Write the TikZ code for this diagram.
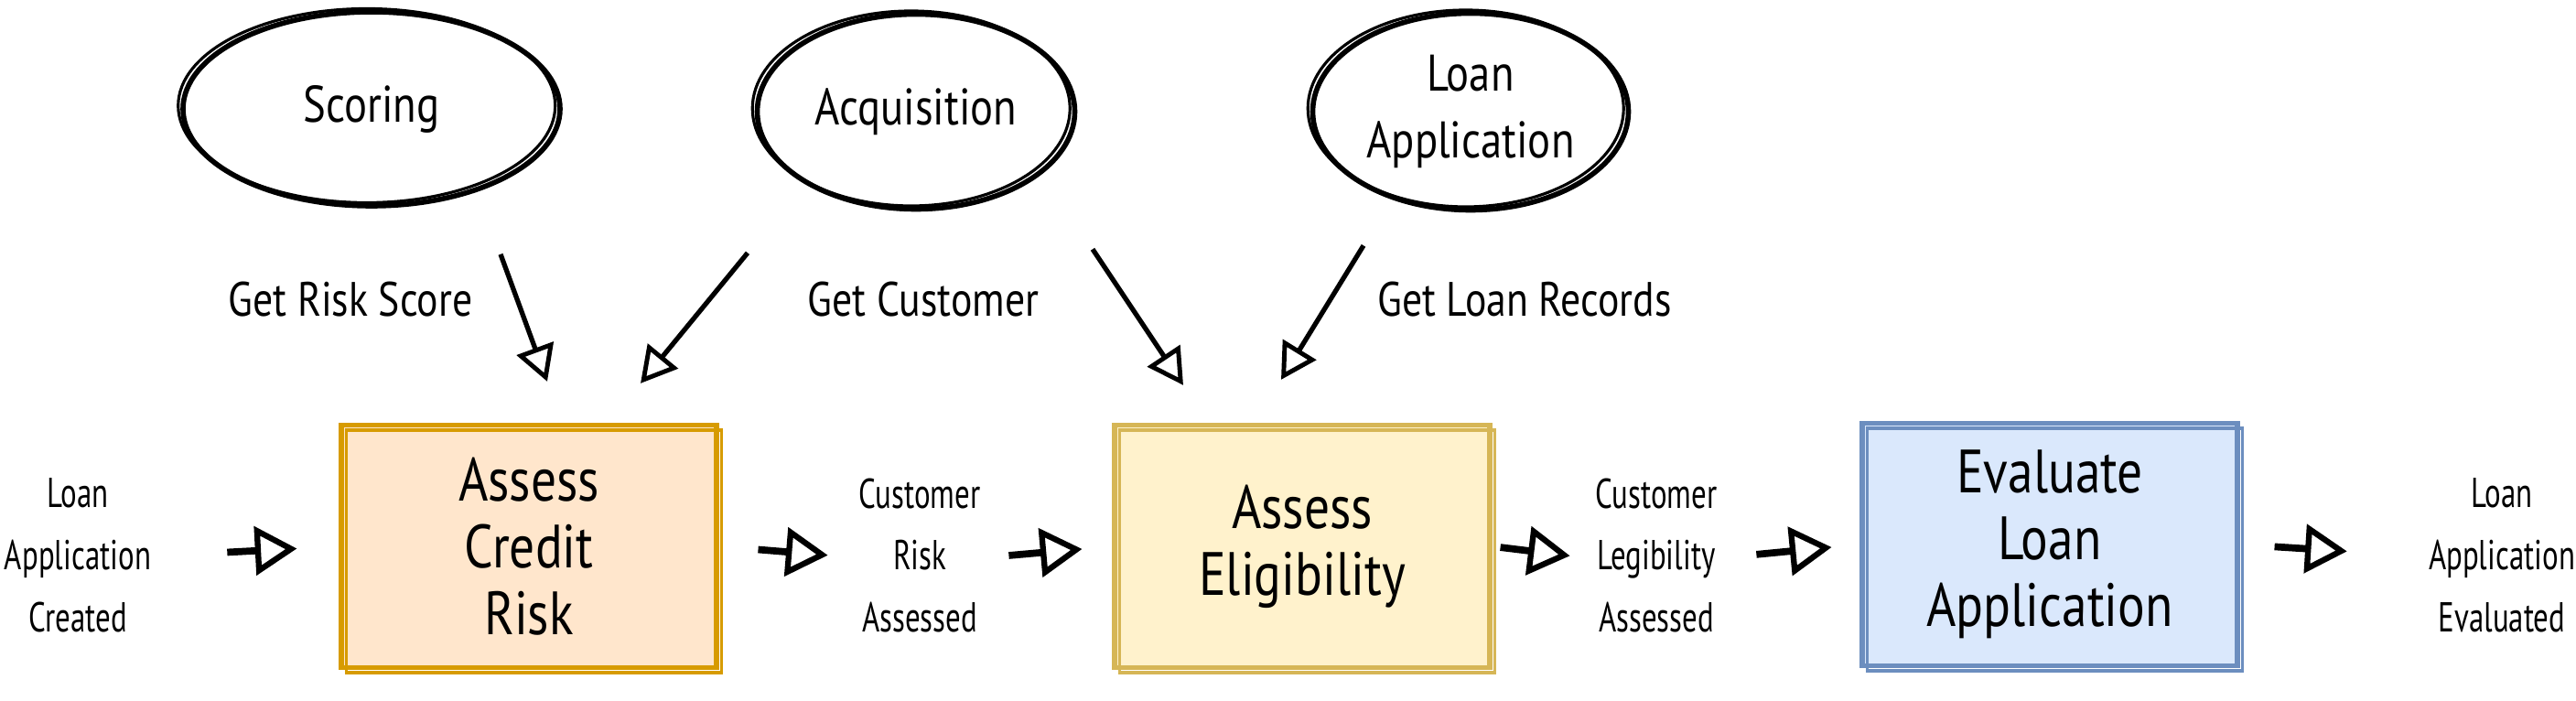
\documentclass[tikz,border=0pt]{standalone}
\usepackage{fontspec}
\setmainfont{PT Sans}[FakeStretch=0.83]
\newfontfamily\angosta{PT Sans}[FakeStretch=0.72]
\usepackage{tikz}
\usetikzlibrary{shapes.geometric,arrows.meta,calc}
\definecolor{naranja}{HTML}{FFE6CC}
\definecolor{naranjaborde}{HTML}{D79B00}
\definecolor{amarillo}{HTML}{FFF2CC}
\definecolor{amarilloborde}{HTML}{D6B656}
\definecolor{azul}{HTML}{DAE8FC}
\definecolor{azulborde}{HTML}{6C8EBF}

\begin{document}
\begin{tikzpicture}[
  dominio/.style={ellipse,draw=black,line width=1.6pt,inner sep=0pt,
                  align=center,font=\fontsize{16}{21}\selectfont,
                  postaction={draw,line width=0.9pt,transform canvas={xshift=-1.5pt,yshift=1pt}}},
  proceso/.style={rectangle,line width=1.5pt,minimum width=4.1cm,minimum height=2.65cm,
                  align=center,font=\fontsize{19}{20.8}\selectfont,
                  postaction={draw,line width=1pt,transform canvas={xshift=1.5pt,yshift=-1.5pt}}},
  evento/.style={text width=1.7cm,align=center,font=\angosta\fontsize{13}{19.3}\selectfont},
  consulta/.style={align=center,font=\fontsize{15}{18}\selectfont},
  flecha/.style={-{Triangle[open,length=11pt,width=12pt,line width=1.4pt]},line width=1.5pt},
  flechagruesa/.style={-{Triangle[open,length=13pt,width=15pt,line width=1.8pt]},line width=2.2pt}
]
\useasboundingbox (0,0) rectangle (28.15,7.65);

% bounded contexts
\node[dominio,minimum width=4.12cm,minimum height=2.12cm] (scoring) at (4.06,6.46) {Scoring};
\node[dominio,minimum width=3.47cm,minimum height=2.13cm] (acquisition) at (10.01,6.43) {Acquisition};
\node[dominio,minimum width=3.45cm,minimum height=2.15cm] (loanapp) at (16.07,6.43) {Loan\\Application};

% queries
\node[consulta] (getscore) at (3.83,4.38) {Get Risk Score};
\node[consulta] (getcustomer) at (10.09,4.38) {Get Customer};
\node[consulta] (getrecords) at (16.66,4.38) {Get Loan Records};

% process steps
\node[proceso,fill=naranja,draw=naranjaborde] (credit) at (5.78,1.68) {Assess\\Credit\\Risk};
\node[proceso,fill=amarillo,draw=amarilloborde] (eligibility) at (14.23,1.68) {Assess\\Eligibility};
\node[proceso,fill=azul,draw=azulborde] (evaluate) at (22.40,1.70) {Evaluate\\Loan\\Application};

% events
\node[evento] (created) at (0.85,1.58) {Loan\\Application\\Created};
\node[evento] (riskassessed) at (10.05,1.58) {Customer\\Risk\\Assessed};
\node[evento] (legassessed) at (18.10,1.58) {Customer\\Legibility\\Assessed};
\node[evento] (evaluated) at (27.34,1.58) {Loan\\Application\\Evaluated};

\draw[flecha] ([xshift=1.41cm,yshift=-0.50cm]scoring.south) -- ([xshift=0.20cm,yshift=0.45cm]credit.north);
\draw[flecha] ([xshift=-1.84cm,yshift=-0.45cm]acquisition.south) -- ([xshift=1.22cm,yshift=0.43cm]credit.north);
\draw[flecha] ([xshift=1.93cm,yshift=-0.41cm]acquisition.south) -- ([xshift=-1.30cm,yshift=0.41cm]eligibility.north);
\draw[flecha] ([xshift=-1.17cm,yshift=-0.36cm]loanapp.south) -- ([xshift=-0.23cm,yshift=0.47cm]eligibility.north);

\draw[flechagruesa,shorten <=0.66cm,shorten >=0.46cm] (created.east) -- (credit.west);
\draw[flechagruesa,shorten <=0.43cm,shorten >=0.03cm] (credit.east) -- (riskassessed.west);
\draw[flechagruesa,shorten <=0.00cm,shorten >=0.33cm] (riskassessed.east) -- (eligibility.west);
\draw[flechagruesa,shorten <=0.09cm,shorten >=-0.03cm] (eligibility.east) -- (legassessed.west);
\draw[flechagruesa,shorten <=0.12cm,shorten >=0.31cm] (legassessed.east) -- (evaluate.west);
\draw[flechagruesa,shorten <=0.38cm,shorten >=0.72cm] (evaluate.east) -- (evaluated.west);
\end{tikzpicture}
\end{document}
